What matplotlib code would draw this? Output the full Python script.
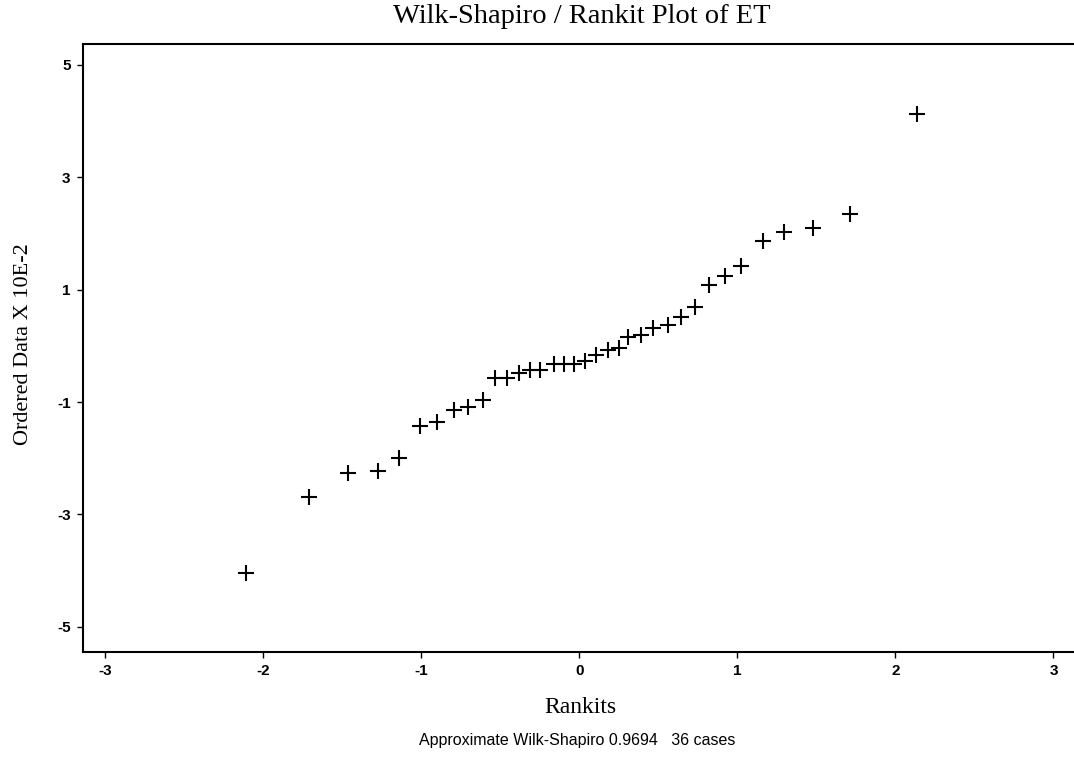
import matplotlib
matplotlib.use("Agg")
import matplotlib.pyplot as plt

rankits = [-2.11, -1.71, -1.465, -1.274, -1.139, -1.006, -0.90, -0.795, -0.705, -0.612,
           -0.536, -0.458, -0.384, -0.31, -0.247, -0.163, -0.099, -0.036, 0.034, 0.106,
           0.18, 0.249, 0.308, 0.39, 0.466, 0.561, 0.644, 0.73, 0.818, 0.924,
           1.023, 1.162, 1.297, 1.479, 1.715, 2.137]
ordered = [-4.04, -2.70, -2.27, -2.22, -2.00, -1.42, -1.36, -1.15, -1.09, -0.96,
           -0.58, -0.58, -0.485, -0.425, -0.425, -0.318, -0.318, -0.318, -0.275, -0.156,
           -0.066, -0.036, 0.162, 0.185, 0.311, 0.37, 0.515, 0.70, 1.083, 1.24,
           1.43, 1.867, 2.03, 2.106, 2.35, 4.12]
xticks = [-3, -2, -1, 0, 1, 2, 3]
yticks = [-5, -3, -1, 1, 3, 5]

fig = plt.figure(figsize=(10.74, 7.62), dpi=100)
ax = fig.add_axes([0.0773, 0.1444, 0.9227, 0.7976])
ax.plot(rankits, ordered, linestyle='none', marker='+', markersize=12,
        markeredgewidth=1.5, color='black')
ax.set_xlim(-3.14, 3.13)
ax.set_ylim(-5.45, 5.37)
ax.set_xticks(xticks)
ax.set_yticks(yticks)
ax.set_xticklabels([str(v) for v in xticks], fontweight='bold', fontsize=11,
                   family='Liberation Sans')
ax.set_yticklabels([str(v) for v in yticks], fontweight='bold', fontsize=11,
                   family='Liberation Sans')
ax.tick_params(axis='both', direction='out', length=4, width=1, pad=5)
ax.spines['right'].set_visible(False)
for s in ['left', 'top', 'bottom']:
    ax.spines[s].set_linewidth(1.5)

fig.text(0.542, 0.979, 'Wilk-Shapiro / Rankit Plot of ET', ha='center', va='center',
         fontsize=20.5, family='Liberation Serif')
fig.text(0.540, 0.072, 'Rankits', ha='center', va='center',
         fontsize=17, family='Liberation Serif')
fig.text(0.537, 0.028, 'Approximate Wilk-Shapiro 0.9694   36 cases', ha='center',
         va='center', fontsize=11.5, family='Liberation Sans')
fig.text(0.022, 0.548, 'Ordered Data X 10E-2', ha='center', va='center', rotation=90,
         fontsize=16, family='Liberation Serif')

fig.savefig('out.png', dpi=100)
